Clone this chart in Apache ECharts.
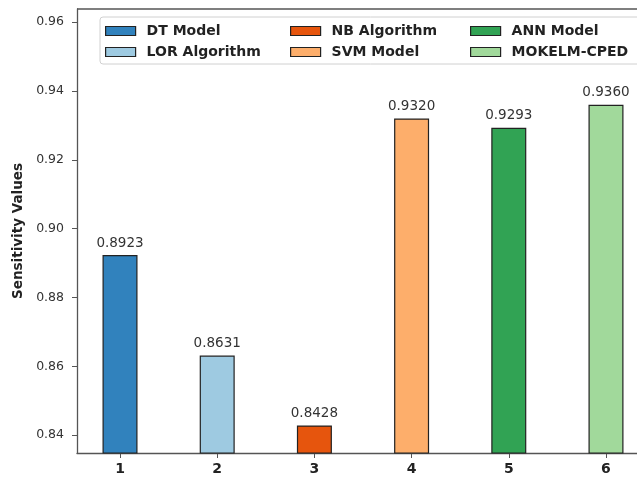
<!DOCTYPE html>
<html>
<head>
<meta charset="utf-8">
<script src="https://cdn.jsdelivr.net/npm/echarts@6/dist/echarts.min.js"></script>
<style>html,body{margin:0;padding:0;background:#fff}#c{width:637px;height:477px}</style>
</head>
<body>
<div id="c"></div>
<script>
const models = ['DT Model','LOR Algorithm','NB Algorithm','SVM Model','ANN Model','MOKELM-CPED'];
const positions = [1,2,3,4,5,6];
const values = [0.8923,0.8631,0.8428,0.9320,0.9293,0.9360];
const colors = ['#3182bd','#9ecae1','#e6550d','#fdae6b','#31a354','#a1d99b'];
const yTicks = [0.84,0.86,0.88,0.90,0.92,0.94,0.96];
const xTicks = [1,2,3,4,5,6];

const chart = echarts.init(document.getElementById('c'), null, {renderer:'canvas'});
const series = models.map((m,i)=>({
  name: m,
  type: 'bar',
  barWidth: 35,
  barGap: '-100%',
  data: [[positions[i], values[i]]],
  itemStyle: {color: colors[i], borderColor: '#222', borderWidth: 1.2},
  label: {show: true, position: 'top', distance: 5, formatter: p => p.value[1].toFixed(4),
          fontFamily: 'DejaVu Sans', fontSize: 13.5, color: '#333'}
}));
const legendBase = {
  orient: 'vertical', itemWidth: 30, itemHeight: 9, itemGap: 7,
  icon: 'rect',
  itemStyle: {borderColor: '#222', borderWidth: 1.2},
  textStyle: {fontFamily: 'DejaVu Sans', fontWeight: 'bold', fontSize: 14, color: '#222', padding: [0,0,0,6]}
};
chart.setOption({
  animation: false,
  graphic: [
    {type:'rect', shape:{x:100,y:17,width:560,height:47,r:3}, style:{fill:'rgba(255,255,255,0.8)', stroke:'#d0d0d0', lineWidth:1}, z:-1},
    {type:'line', shape:{x1:77,y1:9,x2:637,y2:9}, style:{stroke:'#555', lineWidth:1.3}}
  ],
  legend: [
    Object.assign({left: 100, top: 19, data: [models[0], models[1]]}, legendBase),
    Object.assign({left: 285, top: 19, data: [models[2], models[3]]}, legendBase),
    Object.assign({left: 465, top: 19, data: [models[4], models[5]]}, legendBase)
  ],
  grid: {left: 77, width: 572, top: 9, bottom: 24, outerBoundsMode: 'none', containLabel: false},
  xAxis: {
    type: 'value', min: 0.5575, max: 6.4425,
    splitLine: {show: false},
    axisLine: {show: true, lineStyle: {color: '#555', width: 1.3}},
    axisTick: {show: true, length: 5, customValues: xTicks, lineStyle: {color: '#555'}},
    axisLabel: {customValues: xTicks, fontFamily: 'DejaVu Sans', fontWeight: 'bold', fontSize: 14, color: '#222', margin: 9}
  },
  yAxis: {
    type: 'value', min: 0.8348, max: 0.9638,
    name: 'Sensitivity Values', nameLocation: 'middle', nameGap: 45, nameRotate: 90,
    nameTextStyle: {fontFamily: 'DejaVu Sans', fontWeight: 'bold', fontSize: 13.5, color: '#222'},
    splitLine: {show: false},
    axisLine: {show: true, lineStyle: {color: '#555', width: 1.3}},
    axisTick: {show: true, length: 5, customValues: yTicks, lineStyle: {color: '#555'}},
    axisLabel: {customValues: yTicks, formatter: v => v.toFixed(2), fontFamily: 'DejaVu Sans', fontSize: 12.5, color: '#333', margin: 13}
  },
  series: series
});
</script>
</body>
</html>
